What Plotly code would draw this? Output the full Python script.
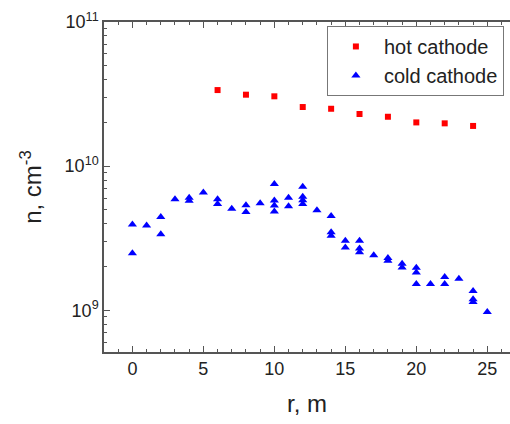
import plotly.graph_objects as go

# hot cathode data
hot_r = [6, 8, 10, 12, 14, 16, 18, 20, 22, 24]
hot_n = [3.37e10, 3.13e10, 3.05e10, 2.57e10, 2.50e10, 2.30e10, 2.20e10, 2.01e10, 1.98e10, 1.90e10]

# cold cathode data
cold_r = [0, 0, 1, 2, 2, 3, 4, 4, 5, 6, 6, 7, 8, 8, 9,
          10, 10, 10, 10, 11, 11, 12, 12, 12, 12, 13, 14, 14, 14,
          15, 15, 16, 16, 16, 17, 18, 18, 19, 19, 20, 20, 20, 21,
          22, 22, 23, 24, 24, 24, 25]
cold_n = [3.94e9, 2.48e9, 3.87e9, 4.43e9, 3.37e9, 5.9e9, 6.03e9, 5.74e9, 6.56e9, 5.9e9, 5.45e9, 5.06e9, 5.36e9, 4.80e9, 5.53e9,
          7.5e9, 5.78e9, 5.33e9, 4.84e9, 6.03e9, 5.27e9, 7.18e9, 6.13e9, 5.8e9, 5.45e9, 4.94e9, 4.5e9, 3.48e9, 3.28e9,
          3.03e9, 2.72e9, 3.03e9, 2.68e9, 2.52e9, 2.41e9, 2.3e9, 2.2e9, 2.1e9, 1.98e9, 1.97e9, 1.83e9, 1.52e9, 1.52e9,
          1.70e9, 1.52e9, 1.65e9, 1.36e9, 1.19e9, 1.14e9, 0.973e9]

x_ticks = [0, 5, 10, 15, 20, 25]
y_ticks = [1e9, 1e10, 1e11]
y_ticktext = ["10<sup>9</sup>", "10<sup>10</sup>", "10<sup>11</sup>"]
y_minor = [m * 10 ** e for e in (8, 9, 10) for m in range(2, 10)]

FONT = "Arial, Liberation Sans, sans-serif"

fig = go.Figure()
fig.add_trace(go.Scatter(x=hot_r, y=hot_n, mode="markers", name="hot cathode",
                         marker=dict(symbol="square", size=6, color="#ff0000")))
fig.add_trace(go.Scatter(x=cold_r, y=cold_n, mode="markers", name="cold cathode",
                         marker=dict(symbol="triangle-up", size=8, color="#0000ff")))

axis_line = "#555555"
fig.update_layout(
    width=510, height=424,
    margin=dict(l=104, r=0, t=22, b=72),
    paper_bgcolor="white", plot_bgcolor="white",
    font=dict(family=FONT, color="#222222", size=18),
    showlegend=True,
    legend=dict(x=0.549, y=0.988, xanchor="left", yanchor="top",
                bordercolor="#777777", borderwidth=1, bgcolor="white",
                font=dict(size=20, family=FONT, color="#222222"),
                itemwidth=46, tracegroupgap=0),
    xaxis=dict(range=[-2, 26.6], showgrid=False, zeroline=False,
               showline=True, linecolor=axis_line, linewidth=1.5,
               mirror="ticks", ticks="inside", ticklen=6, tickwidth=1, tickcolor=axis_line,
               tickmode="array", tickvals=x_ticks,
               minor=dict(ticks="inside", ticklen=3, dtick=1, tick0=0, tickcolor=axis_line, showgrid=False),
               tickfont=dict(size=18),
               title=dict(text="r, m", font=dict(size=24), standoff=17)),
    yaxis=dict(type="log", range=[8.71, 11], showgrid=False, zeroline=False,
               showline=True, linecolor=axis_line, linewidth=1.5,
               ticks="inside", ticklen=6, tickwidth=1, tickcolor=axis_line,
               tickmode="array", tickvals=y_ticks, ticktext=y_ticktext,
               minor=dict(ticks="inside", ticklen=3, tickmode="array", tickvals=y_minor,
                          tickcolor=axis_line, showgrid=False),
               tickfont=dict(size=18),
               title=dict(text="n, cm<sup>-3</sup>", font=dict(size=24), standoff=16)),
)

fig.write_html("out.html")
